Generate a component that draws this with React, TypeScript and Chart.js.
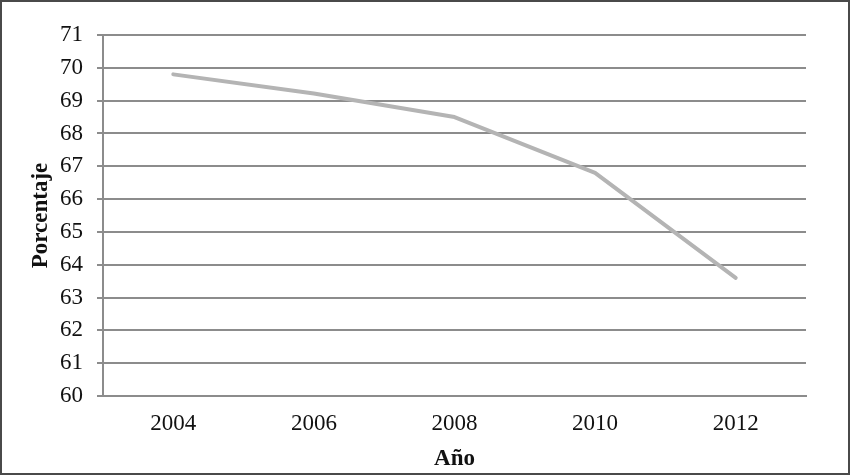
import React, { useEffect, useRef } from "react";
import { Chart, registerables } from "chart.js";

Chart.register(...registerables);

const years = ["2004", "2006", "2008", "2010", "2012"];
const porcentaje = [69.8, 69.22, 68.5, 66.8, 63.6];
const yMin = 60;
const yMax = 71;

export default function App() {
  const ref = useRef<HTMLCanvasElement>(null);

  useEffect(() => {
    document.body.style.margin = "0";
    const ctx = ref.current!;
    const chart = new Chart(ctx, {
      type: "line",
      data: {
        labels: years,
        datasets: [
          {
            data: porcentaje,
            borderColor: "#b4b4b4",
            borderWidth: 4,
            pointRadius: 0,
            tension: 0,
            borderCapStyle: "round",
            borderJoinStyle: "round",
          },
        ],
      },
      options: {
        animation: false,
        responsive: false,
        maintainAspectRatio: false,
        layout: { padding: { top: 33, right: 42, left: 0, bottom: 0 } },
        plugins: { legend: { display: false }, tooltip: { enabled: false } },
        scales: {
          x: {
            offset: true,
            grid: { display: false, drawTicks: false },
            border: { display: true, color: "#8c8c8c", width: 2 },
            ticks: {
              color: "#111",
              padding: 14,
              font: { family: "'Liberation Serif', serif", size: 23 },
            },
            title: {
              display: true,
              text: "Año",
              color: "#111",
              padding: { top: 0, bottom: 0 },
              font: { family: "'Liberation Serif', serif", size: 23, weight: "bold" },
            },
            afterFit: (s: any) => {
              s.height = 77;
            },
          },
          y: {
            min: yMin,
            max: yMax,
            ticks: {
              stepSize: 1,
              color: "#111",
              padding: 14,
              font: { family: "'Liberation Serif', serif", size: 23 },
            },
            grid: { color: "#8c8c8c", lineWidth: 2, tickLength: 6 },
            border: { display: true, color: "#8c8c8c", width: 2 },
            title: {
              display: true,
              text: "Porcentaje",
              color: "#111",
              padding: { top: 25, bottom: 0 },
              font: { family: "'Liberation Serif', serif", size: 23, weight: "bold" },
            },
            afterFit: (s: any) => {
              s.width = 101;
            },
          },
        },
      },
    });
    return () => chart.destroy();
  }, []);

  return (
    <div
      style={{
        position: "absolute",
        left: 0,
        top: 0,
        width: 850,
        height: 475,
        boxSizing: "border-box",
        border: "2px solid #4a4a4a",
        background: "#fff",
      }}
    >
      <canvas ref={ref} width={846} height={471} style={{ display: "block" }} />
    </div>
  );
}
